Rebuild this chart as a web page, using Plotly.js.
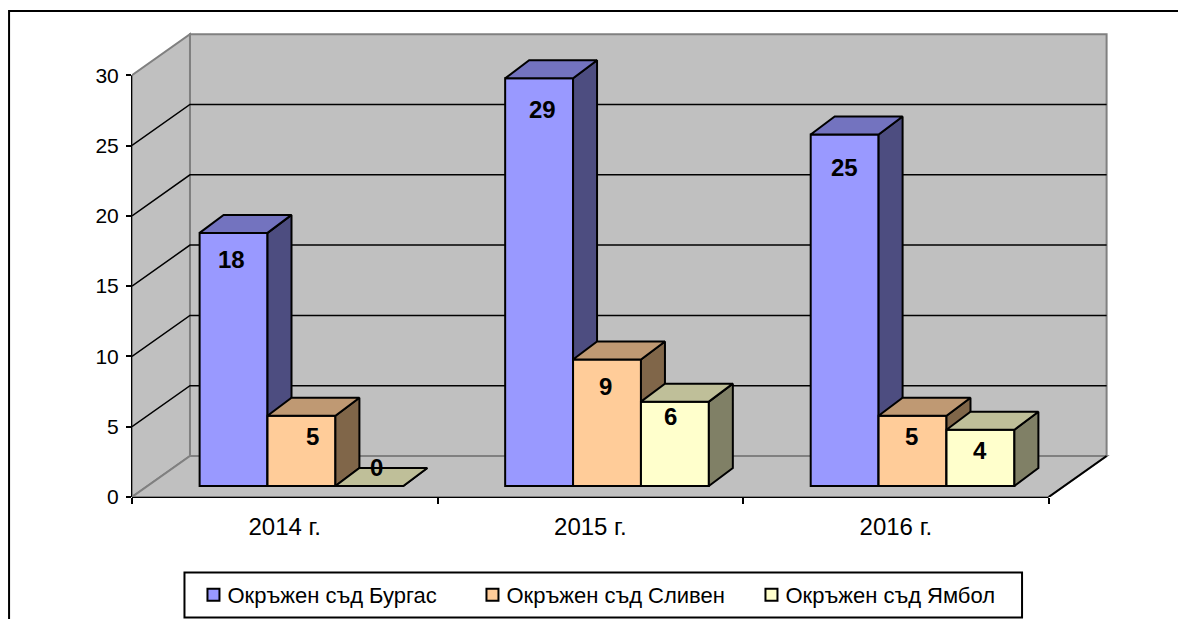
<!DOCTYPE html>
<html><head><meta charset="utf-8">
<script src="https://cdn.plot.ly/plotly-3.0.1.min.js"></script>
<style>html,body{margin:0;padding:0;background:#fff;overflow:hidden}#c{width:1178px;height:619px}</style>
</head><body><div id="c"></div>
<script>
const categories = ['2014 г.', '2015 г.', '2016 г.'];
const burgas = [18, 29, 25];
const sliven = [5, 9, 5];
const yambol = [0, 6, 4];
const seriesNames = ['Окръжен съд Бургас', 'Окръжен съд Сливен', 'Окръжен съд Ямбол'];
const yTicks = [0, 5, 10, 15, 20, 25, 30];

// styling
const fills = ['#9999FF', '#FFCC99', '#FFFFCC'];
const tops = ['#7373BF', '#BF9973', '#BFBF99'];
const sides = ['#4D4D80', '#806649', '#808066'];
const labelNudgeX = [[-2, 3, 0], [11, -2, -1], [7, -4, 0]];
const labelNudgeY = [[-27, -31, -33], [-21, -27, -21], [19, -15, -21]];

const W = 1178, H = 619;
const L = 131.5, B = 497, T = 28, R = 1114;
const catPx = 305.7, unitPx = 14.06;
const x0 = -0.5, x1 = 2.5;
const xr = [x0, x0 + (R - L) / catPx];
const yr = [0, (B - T) / unitPx];
// room depth and bar depth, in axis units
const roomDx = 58 / catPx, roomDy = 41 / unitPx;
const barDx = 24 / catPx, barDy = 18 / unitPx;
// the bar plane sits part way into the room
const shiftX = 16.7 / catPx, shiftY = 11 / unitPx;
const barW = 2 / 9;
const offs = [-1 / 3, -1 / 9, 1 / 9];

const font = 'Liberation Sans, Arial, sans-serif';
const series = [burgas, sliven, yambol];
const data = [];
const idx = categories.map((_, i) => i);

series.forEach((vals, s) => {
  const n = s + 2;
  const xa = 'x' + n, ya = 'y' + n;
  data.push({
    type: 'bar', name: seriesNames[s], x: idx, y: vals, xaxis: xa, yaxis: ya,
    width: barW, offset: offs[s],
    marker: {color: fills[s], line: {color: '#000', width: 2}},
    hovertemplate: '%{y}<extra>' + seriesNames[s] + '</extra>'
  });
  const sx = [], sy = [], tx = [], ty = [];
  vals.forEach((v, i) => {
    const a = i + offs[s], b = a + barW;
    sx.push(b, b + barDx, b + barDx, b, b, null);
    sy.push(0, barDy, v + barDy, v, 0, null);
    tx.push(a, a + barDx, b + barDx, b, a, null);
    ty.push(v, v + barDy, v + barDy, v, v, null);
  });
  [[sx, sy, sides[s]], [tx, ty, tops[s]]].forEach(([px, py, col]) => {
    data.push({
      type: 'scatter', mode: 'lines', x: px, y: py, xaxis: xa, yaxis: ya,
      fill: 'toself', fillcolor: col, line: {color: '#000', width: 2},
      showlegend: false, hoverinfo: 'skip'
    });
  });
});

const poly = pts => 'M' + pts.map(p => p[0] + ',' + p[1]).join(' L') + ' Z';
const wallLine = {color: '#808080', width: 2};
const shapes = [];
const addData = (path, fill, line) => shapes.push({type: 'path', xref: 'x', yref: 'y', layer: 'below', path, fillcolor: fill, line});

// chart frame and legend box
const px = v => (v - L) / (R - L), py = v => (B - v) / (B - T);
shapes.push({type: 'rect', xref: 'paper', yref: 'paper', layer: 'below',
  x0: px(8.5), x1: px(W + 20), y0: py(H + 20), y1: py(11), line: {color: '#000', width: 2}, fillcolor: 'rgba(0,0,0,0)'});
shapes.push({type: 'rect', xref: 'paper', yref: 'paper', layer: 'below',
  x0: px(184), x1: px(1022), y0: py(617.5), y1: py(572.5), line: {color: '#000', width: 2}, fillcolor: '#fff'});

const yTop = yTicks[yTicks.length - 1];
// back wall, left wall, floor
addData(poly([[x0 + roomDx, roomDy], [x1 + roomDx, roomDy], [x1 + roomDx, yTop + roomDy], [x0 + roomDx, yTop + roomDy]]), '#C0C0C0', wallLine);
addData(poly([[x0, 0], [x0 + roomDx, roomDy], [x0 + roomDx, yTop + roomDy], [x0, yTop]]), '#C0C0C0', wallLine);
addData(poly([[x0, 0], [x0 + roomDx, roomDy], [x1 + roomDx, roomDy], [x1, 0]]), '#C0C0C0', wallLine);
// floor's right edge
addData('M' + x1 + ',0 L' + (x1 + roomDx) + ',' + roomDy, 'rgba(0,0,0,0)', {color: '#000', width: 2});
// gridlines
yTicks.slice(1, -1).forEach(v => {
  addData('M' + x0 + ',' + v + ' L' + (x0 + roomDx) + ',' + (v + roomDy) + ' L' + (x1 + roomDx) + ',' + (v + roomDy),
    'rgba(0,0,0,0)', {color: '#000', width: 1.5});
});
// axis lines
shapes.push({type: 'line', xref: 'paper', yref: 'y', layer: 'below', x0: 0, x1: 0, y0: 0, y1: yTop, line: {color: '#000', width: 2}});
shapes.push({type: 'line', xref: 'x', yref: 'paper', layer: 'below', x0: x0, x1: x1, y0: 0, y1: 0, line: {color: '#000', width: 2}});

const annotations = [];
series.forEach((vals, s) => vals.forEach((v, i) => {
  annotations.push({
    xref: 'x' + (s + 2), yref: 'y' + (s + 2), x: i + offs[s] + barW / 2, y: v, text: String(v),
    showarrow: false, xanchor: 'center', yanchor: 'middle',
    xshift: labelNudgeX[s][i], yshift: labelNudgeY[s][i],
    font: {family: font, size: 24, color: '#000', weight: 700}
  });
}));

const layout = {
  width: W, height: H,
  margin: {l: L, r: W - R, t: T, b: H - B, pad: 0, autoexpand: false},
  paper_bgcolor: '#fff', plot_bgcolor: 'rgba(0,0,0,0)',
  showlegend: true, barmode: 'overlay',
  hovermode: 'closest',
  xaxis: {
    range: xr, tickmode: 'array', tickvals: idx, ticktext: categories, ticks: '',
    showgrid: false, zeroline: false, showline: false,
    tickfont: {family: font, size: 24, color: '#000'}, ticklabelstandoff: 13,
    minor: {tickmode: 'array', tickvals: [-0.5, 0.5, 1.5, 2.5], ticks: 'outside', ticklen: 6, tickwidth: 2, tickcolor: '#000', showgrid: false}
  },
  yaxis: {
    range: yr, tickmode: 'array', tickvals: yTicks, ticks: 'outside', ticklen: 5, tickwidth: 2, tickcolor: '#000',
    showgrid: false, zeroline: false, showline: false, ticklabelstandoff: 3,
    tickfont: {family: font, size: 21, color: '#000'}
  },
  legend: {
    orientation: 'h', x: px(194), xanchor: 'left', y: py(595), yanchor: 'middle',
    bgcolor: 'rgba(0,0,0,0)', borderwidth: 0, traceorder: 'normal', indentation: -7,
    entrywidth: 241, entrywidthmode: 'pixels',
    font: {family: font, size: 22, color: '#000'}, itemwidth: 30
  },
  shapes, annotations
};
[2, 3, 4].forEach(n => {
  layout['xaxis' + n] = {overlaying: 'x', visible: false, showgrid: false, zeroline: false,
    range: [xr[0] - shiftX, xr[1] - shiftX]};
  layout['yaxis' + n] = {overlaying: 'y', visible: false, showgrid: false, zeroline: false,
    range: [yr[0] - shiftY, yr[1] - shiftY]};
});
Plotly.newPlot('c', data, layout, {displayModeBar: false, responsive: false}).then(() => {
  // the reference keeps its legend swatches closer to their text than Plotly's fixed gap
  document.querySelectorAll('#c .legendsymbols').forEach(g => g.setAttribute('transform', 'translate(6,0)'));
});
</script></body></html>
